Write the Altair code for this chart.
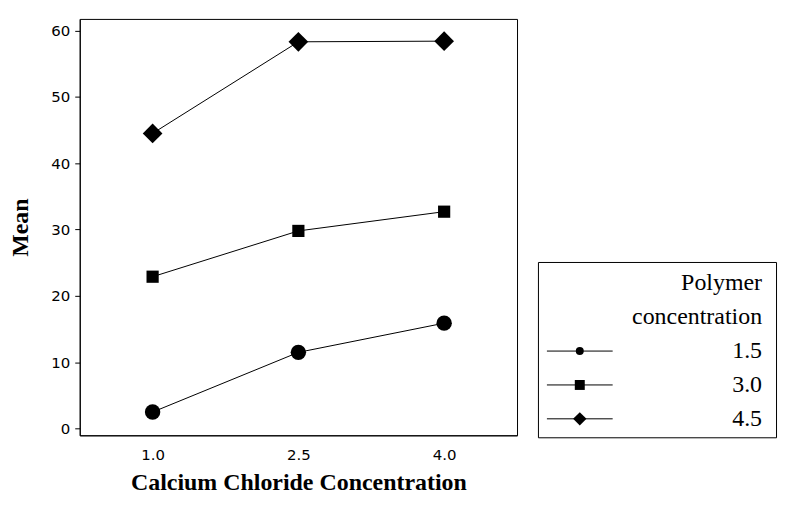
import altair as alt
import pandas as pd

calcium = [1.0, 2.5, 4.0]
polymer_levels = ["1.5", "3.0", "4.5"]
mean_15 = [2.5, 11.5, 15.9]
mean_30 = [22.9, 29.8, 32.7]
mean_45 = [44.5, 58.3, 58.4]
legend_title = ["Polymer", "concentration"]

rows = []
for lvl, vals in zip(polymer_levels, [mean_15, mean_30, mean_45]):
    for c, v in zip(calcium, vals):
        rows.append({"calcium": c, "mean": v, "polymer": lvl})
df = pd.DataFrame(rows)

shapes = ["circle", "square", "diamond"]
main_sizes = [240, 150, 390]
legend_sizes = [64, 100, 180]
serif = "Liberation Serif"
sans = "DejaVu Sans"

base = alt.Chart(df).encode(
    x=alt.X("calcium:Q",
            scale=alt.Scale(domain=[0.25, 4.75], nice=False, zero=False),
            axis=alt.Axis(values=calcium, format=".1f", title="Calcium Chloride Concentration",
                          ticks=False, tickSize=0, labelPadding=12, grid=False,
                          labelFont=sans, labelFontSize=15, labelColor="black",
                          titleFont=serif, titleFontSize=24, titleFontWeight="bold",
                          titleColor="black", titlePadding=8, domainColor="black")),
    y=alt.Y("mean:Q",
            scale=alt.Scale(domain=[-1, 61.75], nice=False, zero=False),
            axis=alt.Axis(values=[0, 10, 20, 30, 40, 50, 60], title="Mean", grid=False,
                          tickSize=5, tickColor="black", labelPadding=5,
                          labelFont=sans, labelFontSize=15, labelColor="black",
                          titleFont=serif, titleFontSize=24, titleFontWeight="bold",
                          titleColor="black", titlePadding=18, domainColor="black")),
)

lines = base.mark_line(color="black", strokeWidth=1).encode(detail="polymer:N")
point_layers = [
    base.transform_filter(alt.datum.polymer == lvl).mark_point(
        filled=True, color="black", opacity=1, shape=shp, size=sz)
    for lvl, shp, sz in zip(polymer_levels, shapes, main_sizes)
]
main = alt.layer(lines, *point_layers).properties(width=439, height=418)

# legend panel
row_keys = legend_title + polymer_levels
leg_text = pd.DataFrame({"idx": list(range(len(row_keys))), "label": row_keys})
leg_items = leg_text.iloc[len(legend_title):]
yrow = alt.Y("idx:Q", scale=alt.Scale(domain=[-0.63, 4.545], reverse=True, nice=False, zero=False),
             axis=None)

leg_rules = alt.Chart(leg_items).mark_rule(color="black", strokeWidth=1).encode(
    y=yrow, x=alt.value(9), x2=alt.value(75))
leg_points = [
    alt.Chart(leg_items).transform_filter(alt.datum.label == lvl).mark_point(
        filled=True, color="black", opacity=1, shape=shp, size=sz).encode(y=yrow, x=alt.value(42))
    for lvl, shp, sz in zip(polymer_levels, shapes, legend_sizes)
]
leg_labels = alt.Chart(leg_text).mark_text(
    align="right", baseline="middle", font=serif, fontSize=24, color="black").encode(
    y=yrow, x=alt.value(225), text="label:N")
legend = alt.layer(leg_rules, *leg_points, leg_labels).properties(width=239, height=176)

spacer = alt.Chart(pd.DataFrame({"a": [0]})).mark_point(opacity=0).encode(
    x=alt.X("a:Q", axis=None), y=alt.Y("a:Q", axis=None)
).properties(width=239, height=242, view=alt.ViewBackground(stroke="transparent"))

right = alt.vconcat(spacer, legend, spacing=0)

chart = alt.hconcat(main, right, spacing=19).properties(
    padding={"left": 0, "top": 9, "right": 5, "bottom": 5},
    background="white",
).configure_view(stroke="black", strokeWidth=1)

chart.save("out.html", embed_options={"renderer": "svg", "actions": False})
